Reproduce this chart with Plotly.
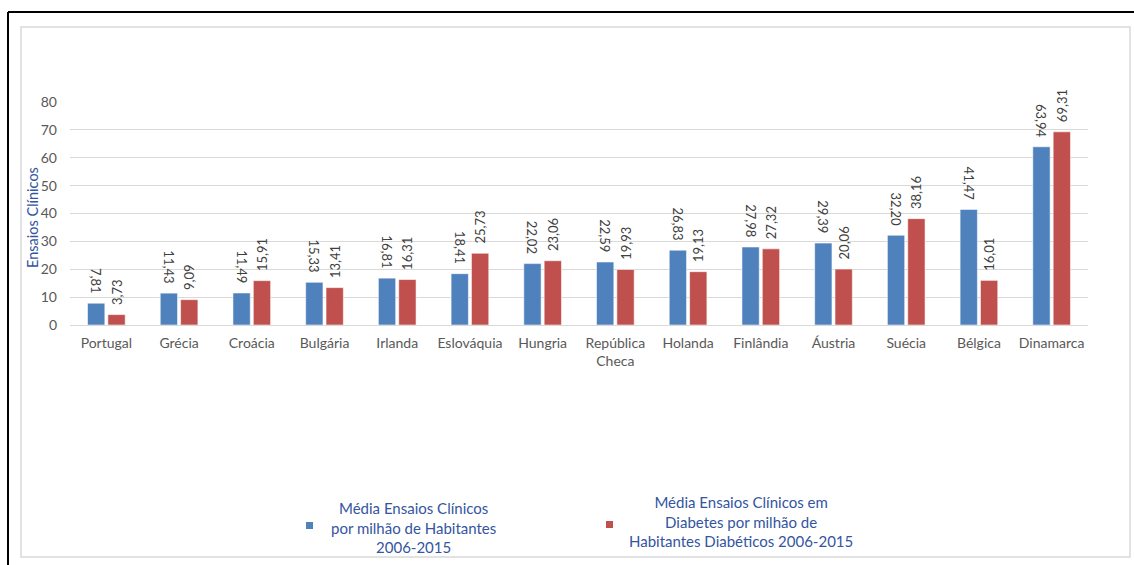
import plotly.graph_objects as go

# Data: average clinical trials per million inhabitants (2006-2015)
paises = ["Portugal", "Grécia", "Croácia", "Bulgária", "Irlanda", "Eslováquia",
          "Hungria", "República<br>Checa", "Holanda", "Finlândia", "Áustria",
          "Suécia", "Bélgica", "Dinamarca"]
ensaios_habitantes = [7.81, 11.43, 11.49, 15.33, 16.81, 18.41, 22.02, 22.59,
                      26.83, 27.98, 29.39, 32.20, 41.47, 63.94]
ensaios_diabetes = [3.73, 9.09, 15.91, 13.41, 16.31, 25.73, 23.06, 19.93,
                    19.13, 27.32, 20.06, 38.16, 16.01, 69.31]
y_ticks = [0, 10, 20, 30, 40, 50, 60, 70, 80]

legenda_1 = "Média Ensaios Clínicos<br>por milhão de Habitantes<br>2006-2015"
legenda_2 = "Média Ensaios Clínicos em<br>Diabetes por milhão de<br>Habitantes Diabéticos 2006-2015"

AZUL = "#4F81BD"
VERMELHO = "#C0504D"
TEXTO_AZUL = "#34559F"
CINZA = "#595959"
FONTE = "Lato, Calibri, sans-serif"

W, H = 1134, 565
L, R, T, B = 70, 46, 102, 240
PAD = "\u00a0\u00a0"  # spacing between bar top and rotated label


def fmt(v):
    return f"{v:.2f}".replace(".", ",")


def px_x(x):
    return (x - L) / (W - L - R)


def px_y(y):
    return (H - B - y) / (H - T - B)


fig = go.Figure()
fig.add_trace(go.Bar(
    x=paises, y=ensaios_habitantes, name=legenda_1,
    marker=dict(color=AZUL, line=dict(color="rgba(255,255,255,0.55)", width=1)),
    text=[fmt(v) + PAD for v in ensaios_habitantes], textposition="outside",
    textangle=90, constraintext="none",
    textfont=dict(size=13, color="#404040", family=FONTE),
    cliponaxis=False, showlegend=False,
))
fig.add_trace(go.Bar(
    x=paises, y=ensaios_diabetes, name=legenda_2,
    marker=dict(color=VERMELHO, line=dict(color="rgba(255,255,255,0.55)", width=1)),
    text=[PAD + fmt(v) for v in ensaios_diabetes], textposition="outside",
    textangle=-90, constraintext="none",
    textfont=dict(size=13, color="#404040", family=FONTE),
    cliponaxis=False, showlegend=False,
))

shapes = [
    # outer gray chart border
    dict(type="rect", xref="paper", yref="paper",
         x0=px_x(21), x1=px_x(1130), y0=px_y(557), y1=px_y(27),
         line=dict(color="#d9d9d9", width=1.5), layer="below"),
    # black frame lines at top and left
    dict(type="line", xref="paper", yref="paper",
         x0=px_x(8), x1=px_x(1134), y0=px_y(12), y1=px_y(12),
         line=dict(color="black", width=2)),
    dict(type="line", xref="paper", yref="paper",
         x0=px_x(8), x1=px_x(8), y0=px_y(12), y1=px_y(565),
         line=dict(color="black", width=2)),
    # legend swatches
    dict(type="rect", xref="paper", yref="paper",
         x0=px_x(306), x1=px_x(313), y0=px_y(529), y1=px_y(522),
         fillcolor=AZUL, line=dict(width=0)),
    dict(type="rect", xref="paper", yref="paper",
         x0=px_x(606), x1=px_x(613), y0=px_y(528), y1=px_y(521),
         fillcolor=VERMELHO, line=dict(width=0)),
]

annotations = [
    dict(text=legenda_1, xref="paper", yref="paper", x=px_x(413), y=px_y(527),
         xanchor="center", yanchor="middle", align="center", showarrow=False,
         font=dict(size=15, color=TEXTO_AZUL, family=FONTE)),
    dict(text=legenda_2, xref="paper", yref="paper", x=px_x(741), y=px_y(521),
         xanchor="center", yanchor="middle", align="center", showarrow=False,
         font=dict(size=15, color=TEXTO_AZUL, family=FONTE)),
    dict(text="Ensaios Clínicos", xref="paper", yref="paper", x=px_x(32),
         y=px_y(218), xanchor="center", yanchor="middle", textangle=-90,
         showarrow=False, font=dict(size=14.5, color=TEXTO_AZUL, family=FONTE)),
]

fig.update_layout(
    width=W, height=H,
    margin=dict(l=L, r=R, t=T, b=B),
    paper_bgcolor="white", plot_bgcolor="white",
    barmode="group", bargap=0.44, bargroupgap=0.15,
    font=dict(family=FONTE, size=13, color=CINZA),
    shapes=shapes, annotations=annotations,
)
fig.update_xaxes(
    showgrid=False, showline=False, zeroline=False,
    tickfont=dict(size=14, color=CINZA), ticklabelstandoff=8,
)
fig.update_yaxes(
    range=[0, 80], tickvals=y_ticks, showgrid=True, gridcolor="#d9d9d9",
    gridwidth=1, zeroline=True, zerolinecolor="#d9d9d9", zerolinewidth=1,
    showline=False, tickfont=dict(size=14, color=CINZA), ticklabelstandoff=12,
)

fig.write_html("out.html")
